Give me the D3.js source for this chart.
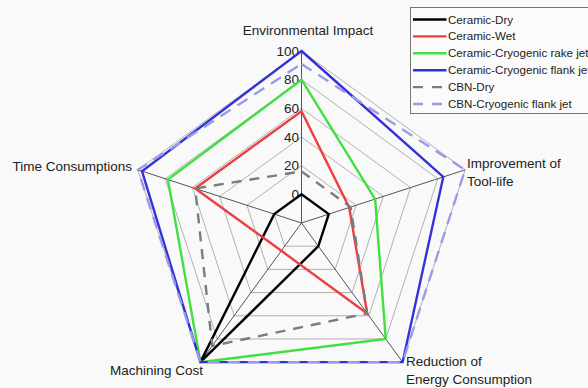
<!DOCTYPE html>
<html>
<head>
<meta charset="utf-8">
<script src="https://cdn.jsdelivr.net/npm/d3@7/dist/d3.min.js"></script>
<style>
  html, body { margin: 0; padding: 0; background: #f9f9f9; }
  svg { display: block; font-family: "Liberation Sans", Arial, sans-serif; }
</style>
</head>
<body>
<svg id="chart" width="588" height="388"></svg>
<script>
// Radar axes, clockwise from the top
const axes = [
  "Environmental Impact",
  "Improvement of Tool-life",
  "Reduction of Energy Consumption",
  "Machining Cost",
  "Time Consumptions"
];
const tickValues = [0, 20, 40, 60, 80, 100];

const seriesNames = [
  "Ceramic-Dry",
  "Ceramic-Wet",
  "Ceramic-Cryogenic rake jet",
  "Ceramic-Cryogenic flank jet",
  "CBN-Dry",
  "CBN-Cryogenic flank jet"
];
// Scores per axis, same order as `axes`
const ceramicDry   = [0, 0, 0, 100, 0];
const ceramicWet   = [58, 15, 58, 4, 58];
const ceramicRake  = [80, 34, 80, 100, 78];
const ceramicFlank = [100, 84, 100, 100, 97];
const cbnDry       = [16, 16, 58, 86, 58];
const cbnFlank     = [91, 100, 100, 100, 100];

const seriesValues = [ceramicDry, ceramicWet, ceramicRake, ceramicFlank, cbnDry, cbnFlank];
const seriesStyle = [
  { color: "#000000", dash: null },
  { color: "#ec4040", dash: null },
  { color: "#3fe03f", dash: null },
  { color: "#3232d8", dash: null },
  { color: "#7c7c7c", dash: "10,8" },
  { color: "#9a9ae8", dash: "12,8" }
];

const svg = d3.select("#chart");
const cx = 301.5, cy = 223;

// radial scale: centre sits at -20 so the 0 ring has some room
const r = d3.scaleLinear().domain([-20, 100]).range([0, 172]);
const angle = d3.scalePoint().domain(axes).range([0, 4 * 72]);

function pt(axis, v) {
  const a = (angle(axis) - 90) * Math.PI / 180;
  return [cx + r(v) * Math.cos(a), cy + r(v) * Math.sin(a)];
}

const g = svg.append("g");

// ring grid
const ringLine = d3.line();
tickValues.forEach(t => {
  const pts = axes.map(a => pt(a, t));
  g.append("path")
    .attr("d", ringLine(pts) + "Z")
    .attr("fill", "none")
    .attr("stroke", "#a8a8a8")
    .attr("stroke-width", 0.9);
});

// spokes
axes.forEach(a => {
  const [x, y] = pt(a, 100);
  g.append("line")
    .attr("x1", cx).attr("y1", cy)
    .attr("x2", x).attr("y2", y)
    .attr("stroke", "#555")
    .attr("stroke-width", 1);
});

// tick labels along the top spoke
g.selectAll("text.tick")
  .data(tickValues)
  .join("text")
  .attr("class", "tick")
  .attr("x", cx - 2.5)
  .attr("y", d => cy - r(d))
  .attr("dy", "0.35em")
  .attr("text-anchor", "end")
  .attr("font-size", 13.5)
  .attr("fill", "#222")
  .text(d => d);

// series polygons
const poly = d3.lineRadial()
  .angle((d, i) => angle(axes[i]) * Math.PI / 180)
  .radius(d => r(d))
  .curve(d3.curveLinearClosed);

const series = g.append("g").attr("transform", `translate(${cx},${cy})`);
seriesValues.forEach((vals, i) => {
  series.append("path")
    .attr("d", poly(vals))
    .attr("fill", "none")
    .attr("stroke", seriesStyle[i].color)
    .attr("stroke-width", 2.4)
    .attr("stroke-linejoin", "miter")
    .attr("stroke-dasharray", seriesStyle[i].dash);
});

// axis titles
const labels = [
  { lines: ["Environmental Impact"], x: 308, y: 35, anchor: "middle" },
  { lines: ["Improvement of", "Tool-life"], x: 467, y: 168, anchor: "start" },
  { lines: ["Reduction of", "Energy Consumption"], x: 406, y: 366, anchor: "start" },
  { lines: ["Machining Cost"], x: 203, y: 375, anchor: "end" },
  { lines: ["Time Consumptions"], x: 132, y: 171, anchor: "end" }
];
labels.forEach(l => {
  const t = svg.append("text")
    .attr("x", l.x).attr("y", l.y)
    .attr("text-anchor", l.anchor)
    .attr("font-size", 13.5)
    .attr("fill", "#222");
  l.lines.forEach((s, k) => {
    t.append("tspan").attr("x", l.x).attr("dy", k === 0 ? 0 : 17.5).text(s);
  });
});

// legend
const lg = svg.append("g");
lg.append("rect")
  .attr("x", 410.5).attr("y", 7.5)
  .attr("width", 200).attr("height", 106)
  .attr("fill", "#fbfbfb")
  .attr("stroke", "#777")
  .attr("stroke-width", 1);
const rowY = d3.scaleLinear().domain([0, 5]).range([19.5, 104]);
seriesNames.forEach((name, i) => {
  const y = rowY(i);
  lg.append("line")
    .attr("x1", 413).attr("x2", 446.5)
    .attr("y1", y).attr("y2", y)
    .attr("stroke", seriesStyle[i].color)
    .attr("stroke-width", 2.4)
    .attr("stroke-dasharray", seriesStyle[i].dash ? "10,9" : null);
  lg.append("text")
    .attr("x", 448).attr("y", y)
    .attr("dy", "0.35em")
    .attr("font-size", 11.6)
    .attr("fill", "#222")
    .text(name);
});
</script>
</body>
</html>
